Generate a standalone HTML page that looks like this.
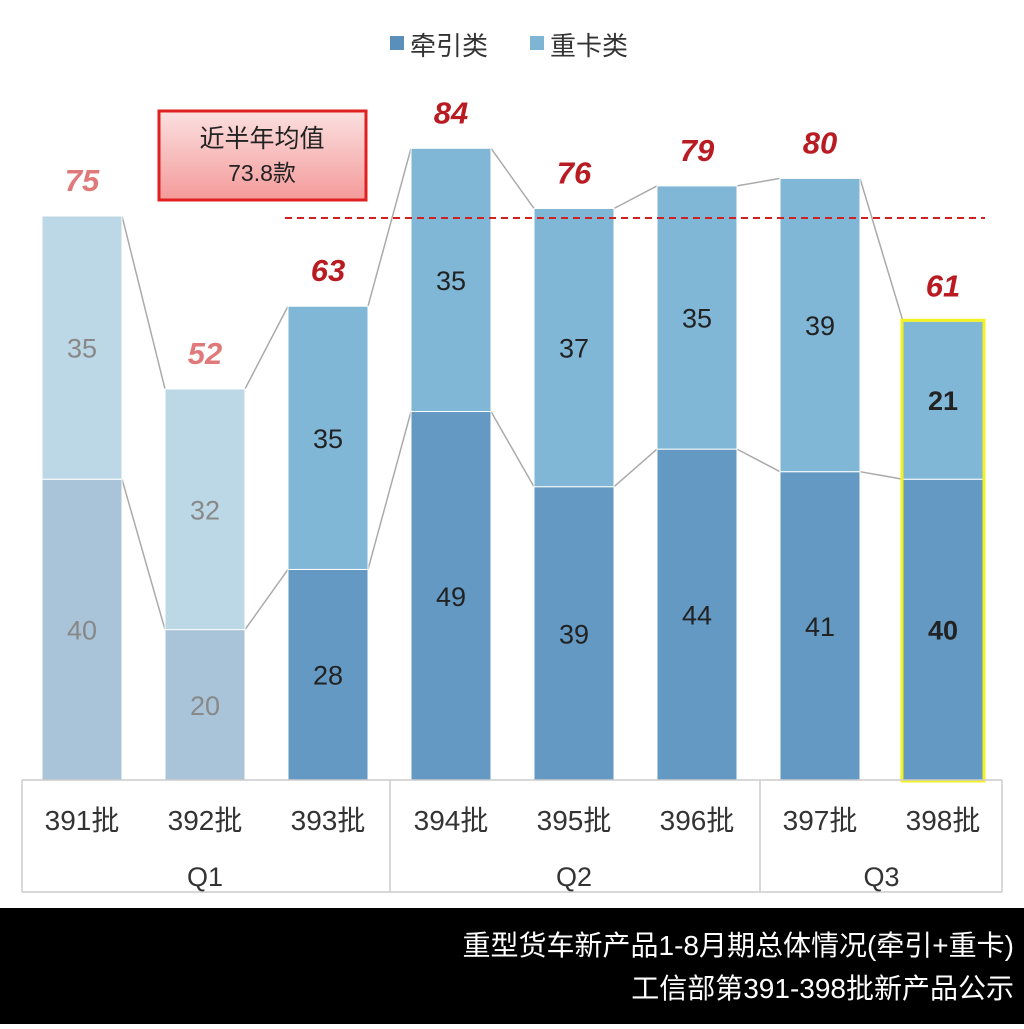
<!DOCTYPE html>
<html><head><meta charset="utf-8"><style>
body{margin:0;width:1024px;height:1024px;background:#fff;overflow:hidden;font-family:"Liberation Sans","Noto Sans CJK SC",sans-serif}
</style></head><body>
<svg width="1024" height="1024" xmlns="http://www.w3.org/2000/svg" font-family="Liberation Sans, Noto Sans CJK SC, sans-serif">
<g id="root"></g>
</svg>
<script>
const categories=["391批","392批","393批","394批","395批","396批","397批","398批"];
const tractor=[40,20,28,49,39,44,41,40];
const truck=[35,32,35,35,37,35,39,21];
const quarters=["Q1","Q2","Q3"];
const quarterSpans=[[0,2],[3,5],[6,7]];
const avg=73.8;
const NS="http://www.w3.org/2000/svg";
const root=document.getElementById('root');
const base=780, k=7.52, x0=42, step=123, bw=80;
const X=i=>x0+i*step, Y=v=>base-v*k;
function el(t,a,txt){const e=document.createElementNS(NS,t);for(const n in a)e.setAttribute(n,a[n]);if(txt!=null)e.textContent=txt;root.appendChild(e);return e;}
let e;
e=el('rect',{x:390,y:36,width:14,height:14,fill:'#5a8fba'});
e=el('text',{x:410,y:55,'font-size':26,fill:'#333'},'牵引类');
e=el('rect',{x:530,y:36,width:14,height:14,fill:'#7db5d3'});
e=el('text',{x:550,y:55,'font-size':26,fill:'#333'},'重卡类');
for(let i=0;i<categories.length-1;i++){
 const a=tractor[i],b=tractor[i+1],ta=a+truck[i],tb=b+truck[i+1];
 e=el('line',{x1:X(i)+bw,y1:Y(a),x2:X(i+1),y2:Y(b),stroke:'#aaa','stroke-width':1.5});
 e=el('line',{x1:X(i)+bw,y1:Y(ta),x2:X(i+1),y2:Y(tb),stroke:'#aaa','stroke-width':1.5});
}
for(let i=0;i<categories.length;i++){
 const faded=i<2;
 const c1=faded?'#a9c4d8':'#6399c3', c2=faded?'#bcd8e6':'#80b6d6';
 const tc=faded?'#888':'#222';
 const tot=tractor[i]+truck[i];
 e=el('rect',{x:X(i),y:Y(tractor[i]),width:bw,height:tractor[i]*k,fill:c1,stroke:'#fff','stroke-width':1});
 e=el('rect',{x:X(i),y:Y(tot),width:bw,height:truck[i]*k,fill:c2,stroke:'#fff','stroke-width':1});
 const bold=i==7?'bold':'normal';
 e=el('text',{x:X(i)+bw/2,y:Y(tractor[i]/2)+10,'font-size':27,fill:tc,'text-anchor':'middle','font-weight':bold},tractor[i]);
 e=el('text',{x:X(i)+bw/2,y:Y(tractor[i]+truck[i]/2)+10,'font-size':27,fill:tc,'text-anchor':'middle','font-weight':bold},truck[i]);
 e=el('text',{x:X(i)+bw/2,y:Y(tot)-25,'font-size':31,fill:faded?'#e07a7a':'#b81c22','text-anchor':'middle','font-weight':'bold','font-style':'italic'},tot);
 e=el('text',{x:X(i)+bw/2,y:830,'font-size':28,fill:'#333','text-anchor':'middle'},categories[i]);
}
e=el('rect',{x:X(7)-1,y:Y(tractor[7]+truck[7])-1,width:bw+2,height:(tractor[7]+truck[7])*k+2,fill:'none',stroke:'#f2f222','stroke-width':3});
e=el('line',{x1:22,y1:base,x2:1002,y2:base,stroke:'#ccc','stroke-width':1.5});
[22,390,760,1002].forEach(x=>{e=el('line',{x1:x,y1:base,x2:x,y2:892,stroke:'#ccc','stroke-width':1.5});});
e=el('line',{x1:22,y1:892,x2:1002,y2:892,stroke:'#ccc','stroke-width':1.5});
quarters.forEach((q,j)=>{const [a,b]=quarterSpans[j];e=el('text',{x:(X(a)+X(b)+bw)/2,y:886,'font-size':27,fill:'#333','text-anchor':'middle'},q);});
e=el('line',{x1:285,y1:Y(avg)-7,x2:985,y2:Y(avg)-7,stroke:'#d02020','stroke-width':2,'stroke-dasharray':'7,5'});
const g=document.createElementNS(NS,'defs');g.innerHTML='<linearGradient id="pg" x1="0" y1="0" x2="0" y2="1"><stop offset="0" stop-color="#fbe0e0"/><stop offset="1" stop-color="#f49a9a"/></linearGradient>';root.appendChild(g);
e=el('rect',{x:159,y:111,width:207,height:89,fill:'url(#pg)',stroke:'#e02020','stroke-width':3});
e=el('text',{x:262,y:147,'font-size':25,fill:'#222','text-anchor':'middle'},'近半年均值');
e=el('text',{x:262,y:181,'font-size':23,fill:'#222','text-anchor':'middle'},avg+'款');
e=el('rect',{x:0,y:908,width:1024,height:116,fill:'#000'});
e=el('text',{x:1014,y:955,'font-size':28,fill:'#fff','text-anchor':'end'},'重型货车新产品1-8月期总体情况(牵引+重卡)');
e=el('text',{x:1014,y:998,'font-size':28,fill:'#fff','text-anchor':'end'},'工信部第391-398批新产品公示');
</script>
</body></html>
